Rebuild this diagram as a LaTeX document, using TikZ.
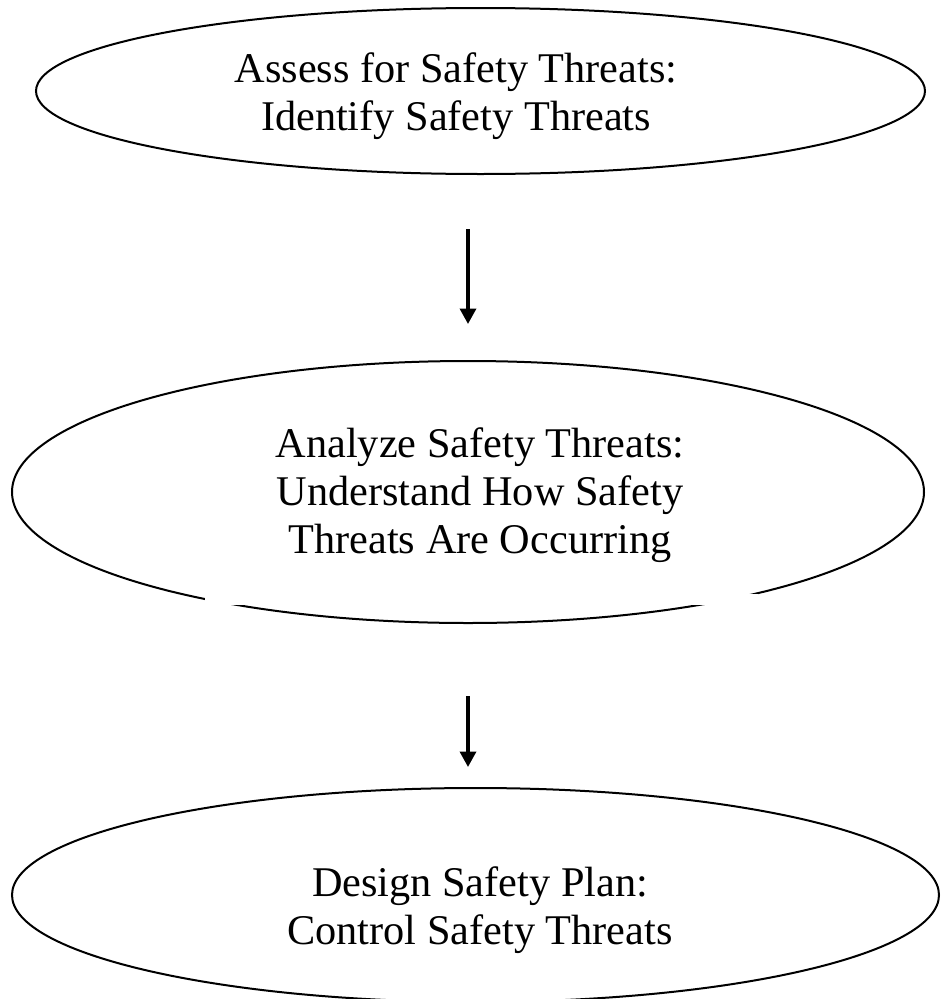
\documentclass[tikz,border=0pt]{standalone}
\usepackage{fontspec}
\setmainfont{Liberation Serif}
\usetikzlibrary{shapes.geometric,arrows.meta}
\begin{document}
\begin{tikzpicture}[x=1pt,y=-1pt,
  oval/.style={ellipse, draw, line width=2pt, inner sep=0pt, outer sep=0pt},
  lbl/.style={align=center, font=\fontsize{42.3pt}{48pt}\selectfont, inner sep=0pt, anchor=base},
  flow/.style={line width=3.5pt, -{Triangle[width=16pt,length=15.5pt]}}]
\useasboundingbox (0,0) rectangle (941,999);
\node[oval, minimum width=889pt, minimum height=166pt] (e1) at (480.5,91) {};
\node[oval, minimum width=912pt, minimum height=262pt] (e2) at (468,492) {};
\fill[white] (205,594) rectangle (758,605);
\node[oval, minimum width=927pt, minimum height=214pt] (e3) at (475.5,895) {};
\node[lbl] (t1) at (456,130) {Assess for Safety Threats:\\Identify Safety Threats};
\node[lbl] (t2) at (480,553) {Analyze Safety Threats:\\Understand How Safety\\Threats Are Occurring};
\node[lbl] (t3) at (480,944) {Design Safety Plan:\\Control Safety Threats};
\coordinate (a1s) at (468,229);
\coordinate (a1e) at (468,324);
\coordinate (a2s) at (468,696);
\coordinate (a2e) at (468,767);
\draw[flow] (a1s) -- (a1e);
\draw[flow] (a2s) -- (a2e);
\end{tikzpicture}
\end{document}
